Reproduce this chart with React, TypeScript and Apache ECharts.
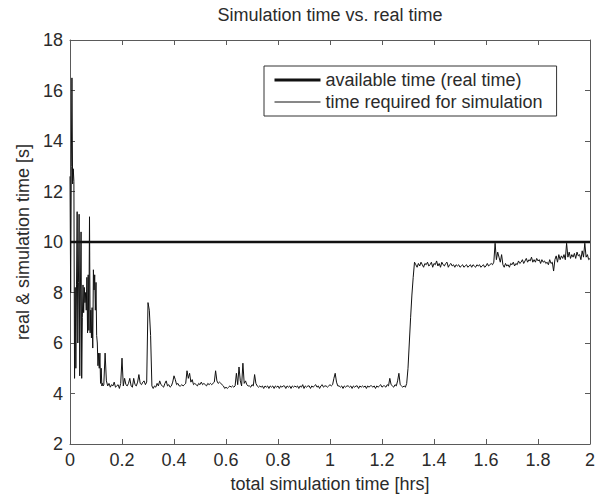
import React, { useEffect, useRef } from "react";
import * as echarts from "echarts";

const titleText = "Simulation time vs. real time";
const xAxisName = "total simulation time [hrs]";
const yAxisName = "real & simulation time [s]";
const legendNames = ["available time (real time)", "time required for simulation"];

const xMin = 0;
const xMax = 2;
const xInterval = 0.2;
const yMin = 2;
const yMax = 18;
const yInterval = 2;

// available (real) time per step [s]
const availableTime = 10;

// start-up phase, sampled every 0.0025 h from 0 h
const earlyStartHrs = 0;
const earlyStepHrs = 0.0025;
const earlyValues = [
  12.6, 8.0, 13.0, 16.5, 12.3, 12.9, 12.4, 4.6, 8.2, 5.0,
  8.3, 11.2, 6.0, 8.4, 11.1, 4.7, 8.1, 10.4, 4.6, 7.0,
  8.3, 7.2, 8.2, 7.6, 8.0, 7.3, 8.6, 6.4, 8.7, 6.5,
  11.0, 6.4, 7.3, 6.2, 7.4, 5.8, 8.9, 8.1, 8.7, 7.3,
  8.4, 6.3, 6.0, 5.1, 5.6, 5.0, 5.6, 4.4, 5.0, 4.3,
  4.4, 4.3, 4.35,
];

// remaining run, sampled every 0.005 h from 0.135 h
const mainStartHrs = 0.135;
const mainStepHrs = 0.005;
const mainValues = [
  5.6, 4.5, 4.3, 4.4, 4.25, 4.35, 4.3, 4.45, 4.25, 4.3,
  4.35, 4.2, 4.4, 5.4, 4.3, 4.6, 4.35, 4.3, 4.4, 4.6,
  4.3, 4.25, 4.6, 4.35, 4.3, 4.45, 4.75, 4.4, 4.35, 4.45,
  4.5, 4.35, 4.45, 7.6, 7.3, 6.3, 4.3, 4.2, 4.3, 4.25,
  4.4, 4.3, 4.5, 4.35, 4.3, 4.25, 4.4, 4.5, 4.3, 4.35,
  4.25, 4.3, 4.45, 4.7, 4.55, 4.35, 4.4, 4.3, 4.3, 4.35,
  4.3, 4.35, 4.4, 4.9, 4.6, 4.8, 4.45, 4.55, 4.35, 4.4,
  4.35, 4.3, 4.4, 4.35, 4.45, 4.35, 4.4, 4.35, 4.3, 4.4,
  4.35, 4.4, 4.35, 4.4, 4.45, 4.9, 4.5, 4.4, 4.45, 4.4,
  4.35, 4.3, 4.2, 4.25, 4.2, 4.25, 4.3, 4.25, 4.3, 4.25,
  4.3, 4.8, 4.35, 5.05, 4.5, 4.3, 5.2, 4.4, 4.5, 4.35,
  4.3, 4.3, 4.25, 4.35, 4.3, 4.75, 4.4, 4.3, 4.25, 4.3,
  4.25, 4.3, 4.2, 4.3, 4.25, 4.3, 4.2, 4.3, 4.25, 4.3,
  4.2, 4.3, 4.25, 4.3, 4.2, 4.3, 4.25, 4.3, 4.3, 4.2,
  4.3, 4.25, 4.3, 4.2, 4.3, 4.25, 4.3, 4.25, 4.3, 4.2,
  4.3, 4.25, 4.35, 4.2, 4.3, 4.25, 4.3, 4.3, 4.2, 4.3,
  4.25, 4.3, 4.35, 4.25, 4.3, 4.2, 4.3, 4.35, 4.25, 4.3,
  4.3, 4.25, 4.3, 4.35, 4.3, 4.35, 4.6, 4.8, 4.45, 4.3,
  4.3, 4.25, 4.3, 4.2, 4.3, 4.25, 4.3, 4.3, 4.25, 4.3,
  4.2, 4.3, 4.25, 4.3, 4.3, 4.2, 4.3, 4.25, 4.3, 4.25,
  4.3, 4.2, 4.3, 4.25, 4.3, 4.3, 4.25, 4.3, 4.2, 4.3,
  4.25, 4.3, 4.35, 4.25, 4.3, 4.3, 4.25, 4.35, 4.3, 4.6,
  4.35, 4.3, 4.25, 4.35, 4.3, 4.5, 4.8, 4.35, 4.3, 4.25,
  4.3, 4.25, 4.4, 5.0, 6.0, 7.0, 7.9, 8.6, 9.2, 9.1,
  9.0, 9.15, 9.05, 9.2, 9.1, 9.0, 9.15, 9.1, 9.2, 9.05,
  9.1, 9.2, 9.0, 9.15, 9.1, 9.25, 9.05, 9.15, 9.0, 9.2,
  9.1, 9.05, 9.15, 9.2, 9.0, 9.1, 9.15, 9.05, 9.1, 9.0,
  9.1, 9.05, 9.1, 9.0, 9.05, 9.1, 9.0, 9.05, 9.1, 9.0,
  9.05, 9.1, 9.0, 9.1, 9.05, 9.0, 9.1, 9.05, 9.1, 9.0,
  9.05, 9.1, 9.0, 9.05, 9.15, 9.05, 9.1, 9.15, 9.1, 9.2,
  9.95, 9.3, 9.6, 9.4, 9.2, 9.5, 9.1, 9.0, 9.15, 9.05,
  9.1, 9.0, 9.15, 9.1, 9.2, 9.05, 9.15, 9.1, 9.25, 9.15,
  9.2, 9.3, 9.15, 9.25, 9.35, 9.2, 9.3, 9.25, 9.4, 9.2,
  9.3, 9.2, 9.35, 9.25, 9.3, 9.15, 9.3, 9.2, 9.25, 9.15,
  9.2, 9.1, 9.3, 9.15, 9.2, 8.85, 9.3, 9.45, 9.2, 9.5,
  9.3, 9.45, 9.35, 9.5, 9.3, 9.95, 9.4, 9.6, 9.35, 9.5,
  9.4, 9.55, 9.35, 9.6, 9.45, 9.5, 9.3, 9.65, 9.4, 9.95,
  9.4, 9.5, 9.3, 9.35,
];

const FONT = "'Liberation Sans', Arial, Helvetica, sans-serif";
const TEXT = "#2b2b2b";
const AXIS = "#5a5a5a";

export default function App() {
  const ref = useRef<HTMLDivElement>(null);

  useEffect(() => {
    if (!ref.current) return;
    const chart = echarts.init(ref.current, undefined, { renderer: "svg" });

    const simData: [number, number][] = [
      ...earlyValues.map((v, i) => [+(earlyStartHrs + i * earlyStepHrs).toFixed(4), v] as [number, number]),
      ...mainValues.map((v, i) => [+(mainStartHrs + i * mainStepHrs).toFixed(4), v] as [number, number]),
    ];
    const refData: [number, number][] = [
      [xMin, availableTime],
      [xMax, availableTime],
    ];

    const axisCommon = {
      axisLine: { show: true, onZero: false, lineStyle: { color: AXIS, width: 1 } },
      axisTick: { show: true, inside: true, length: 5, lineStyle: { color: AXIS } },
      splitLine: { show: false },
    };

    chart.setOption({
      animation: false,
      backgroundColor: "#fff",
      textStyle: { fontFamily: FONT },
      title: {
        text: titleText,
        left: 330,
        top: 6,
        padding: 0,
        textAlign: "center",
        textStyle: { fontSize: 18, fontWeight: "normal", color: TEXT, fontFamily: FONT },
      },
      legend: {
        orient: "vertical",
        left: 264,
        top: 66,
        padding: [5, 14, 5, 9],
        itemGap: 4,
        itemWidth: 46,
        itemHeight: 18,
        borderColor: "#333",
        borderWidth: 1,
        backgroundColor: "#fff",
        itemStyle: { color: "transparent", borderWidth: 0, opacity: 0 },
        textStyle: { fontSize: 18, color: TEXT, fontFamily: FONT },
        data: [
          { name: legendNames[0], lineStyle: { width: 3, color: "#111" } },
          { name: legendNames[1], lineStyle: { width: 1, color: "#111" } },
        ],
      },
      grid: { left: 70, right: 10, top: 40, bottom: 47, containLabel: false },
      xAxis: [
        {
          type: "value",
          position: "bottom",
          min: xMin,
          max: xMax,
          interval: xInterval,
          name: xAxisName,
          nameLocation: "middle",
          nameGap: 31,
          nameTextStyle: { fontSize: 18, color: TEXT, fontFamily: FONT },
          axisLabel: { fontSize: 18, color: TEXT, margin: 7, fontFamily: FONT },
          ...axisCommon,
        },
        {
          type: "value",
          position: "top",
          min: xMin,
          max: xMax,
          interval: xInterval,
          axisLabel: { show: false },
          ...axisCommon,
        },
      ],
      yAxis: [
        {
          type: "value",
          position: "left",
          min: yMin,
          max: yMax,
          interval: yInterval,
          name: yAxisName,
          nameLocation: "middle",
          nameGap: 34,
          nameTextStyle: { fontSize: 18, color: TEXT, fontFamily: FONT },
          axisLabel: { fontSize: 18, color: TEXT, margin: 7, fontFamily: FONT },
          ...axisCommon,
        },
        {
          type: "value",
          position: "right",
          min: yMin,
          max: yMax,
          interval: yInterval,
          axisLabel: { show: false },
          ...axisCommon,
        },
      ],
      series: [
        {
          name: legendNames[0],
          type: "line",
          data: refData,
          symbol: "none",
          showSymbol: false,
          lineStyle: { color: "#111", width: 2.5 },
          itemStyle: { color: "#111" },
          z: 3,
        },
        {
          name: legendNames[1],
          type: "line",
          data: simData,
          symbol: "none",
          showSymbol: false,
          lineStyle: { color: "#111", width: 1 },
          itemStyle: { color: "#111" },
          z: 2,
        },
      ],
    });

    return () => chart.dispose();
  }, []);

  return (
    <div
      ref={ref}
      style={{ position: "fixed", left: 0, top: 0, width: 600, height: 498, background: "#fff" }}
    />
  );
}
